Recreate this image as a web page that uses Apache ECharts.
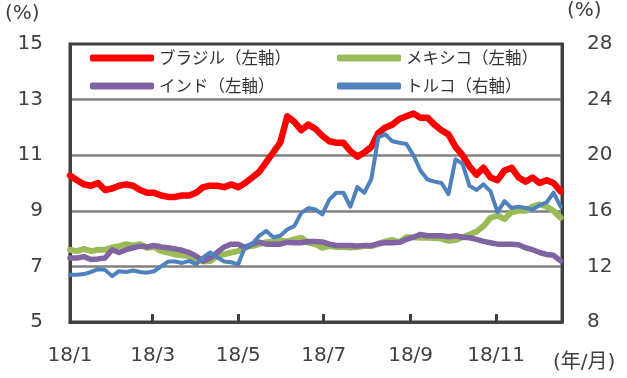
<!DOCTYPE html>
<html>
<head>
<meta charset="utf-8">
<script src="https://cdn.jsdelivr.net/npm/echarts@6/dist/echarts.min.js"></script>
<style>
	html, body { margin: 0; padding: 0; background: #fff; }
	#chart { width: 627px; height: 378px; }
</style>
</head>
<body>
<div id="chart"></div>
<script>
// days since 2018/1/1, one reading every 5 days
var days = [];
for (var i = 0; i < 71; i++) {
	days.push(i * 5);
}

var monthTicks = [0, 59, 120, 181, 243, 304];
var monthLabels = ['18/1', '18/3', '18/5', '18/7', '18/9', '18/11'];

var brazil = [
	10.27, 10.1, 9.95, 9.9, 10.0, 9.75, 9.8, 9.9, 9.95, 9.9,
	9.75, 9.65, 9.65, 9.55, 9.5, 9.5, 9.55, 9.55, 9.65, 9.85,
	9.9, 9.9, 9.85, 9.95, 9.85, 10.0, 10.2, 10.4, 10.75, 11.1,
	11.45, 12.4, 12.2, 11.9, 12.1, 11.95, 11.7, 11.5, 11.45, 11.45,
	11.15, 10.95, 11.1, 11.3, 11.8, 12.0, 12.1, 12.3, 12.4, 12.5,
	12.35, 12.35, 12.1, 11.9, 11.75, 11.3, 11.0, 10.6, 10.3, 10.55,
	10.2, 10.1, 10.45, 10.55, 10.2, 10.05, 10.2, 10.0, 10.1, 10.0,
	9.7
];

var mexico = [
	7.6, 7.55, 7.63, 7.55, 7.6, 7.6, 7.68, 7.73, 7.8, 7.75,
	7.8, 7.67, 7.7, 7.55, 7.5, 7.43, 7.4, 7.37, 7.25, 7.18,
	7.19, 7.37, 7.43, 7.5, 7.55, 7.7, 7.73, 7.8, 7.87, 7.9,
	7.93, 7.9, 7.97, 8.03, 7.85, 7.8, 7.67, 7.73, 7.7, 7.7,
	7.68, 7.7, 7.73, 7.73, 7.8, 7.9, 7.95, 7.87, 8.05, 8.05,
	8.03, 8.03, 8.02, 8.0, 7.92, 7.95, 8.05, 8.15, 8.25, 8.45,
	8.75, 8.83, 8.7, 8.95, 9.0, 9.0, 9.15, 9.23, 9.15, 9.0,
	8.75
];

var india = [
	7.3, 7.3, 7.35, 7.25, 7.27, 7.3, 7.6, 7.5, 7.6, 7.67,
	7.73, 7.7, 7.75, 7.7, 7.67, 7.63, 7.58, 7.5, 7.37, 7.19,
	7.3, 7.5, 7.7, 7.8, 7.8, 7.67, 7.8, 7.87, 7.8, 7.8,
	7.8, 7.87, 7.85, 7.85, 7.9, 7.9, 7.88, 7.8, 7.75, 7.75,
	7.75, 7.73, 7.75, 7.75, 7.82, 7.85, 7.85, 7.87, 7.97, 8.05,
	8.15, 8.1, 8.1, 8.1, 8.07, 8.1, 8.05, 8.03, 7.97, 7.9,
	7.85, 7.8, 7.8, 7.8, 7.78, 7.67, 7.6, 7.5, 7.43, 7.4,
	7.2
];

// right axis
var turkey = [
	11.4, 11.4, 11.45, 11.6, 11.8, 11.75, 11.3, 11.65, 11.6, 11.7,
	11.6, 11.55, 11.65, 12.0, 12.35, 12.35, 12.25, 12.4, 12.15, 12.65,
	13.0, 12.65, 12.35, 12.3, 12.15, 13.45, 13.6, 14.2, 14.55, 14.1,
	14.2, 14.65, 14.9, 15.85, 16.2, 16.1, 15.75, 16.8, 17.3, 17.3,
	16.3, 17.7, 17.3, 18.3, 21.3, 21.5, 21.0, 20.9, 20.8, 20.0,
	18.9, 18.25, 18.1, 18.0, 17.2, 19.7, 19.4, 17.8, 17.5, 17.9,
	17.4, 15.9, 16.7, 16.2, 16.3, 16.2, 16.1, 16.4, 16.6, 17.3,
	16.3
];

function pairs(values) {
	return values.map(function(v, i) {
		return [days[i], v];
	});
}

var axisColor = '#404040';
var labelFont = 'DejaVu Sans';
var jpFont = 'Noto Sans CJK JP';

function lineSeries(name, values, color, width, yIndex) {
	return {
		name: name,
		type: 'line',
		yAxisIndex: yIndex,
		data: pairs(values),
		showSymbol: false,
		symbol: 'none',
		lineStyle: {
			color: color,
			width: width,
			join: 'round',
			cap: 'round'
		},
		itemStyle: {
			color: color
		},
		animation: false
	};
}

function legendBox(left, names) {
	return {
		orient: 'vertical',
		left: left,
		top: 48,
		padding: 0,
		itemWidth: 64,
		itemHeight: 7,
		itemGap: 8,
		icon: 'roundRect',
		data: names,
		textStyle: {
			fontFamily: jpFont,
			fontSize: 16.5,
			lineHeight: 20,
			color: '#333'
		}
	};
}

var chart = echarts.init(document.getElementById('chart'));

var option = {
	animation: false,
	grid: {
		left: 70,
		right: 65,
		top: 44,
		bottom: 56,
		show: true,
		borderColor: axisColor,
		borderWidth: 3
	},
	legend: [
		legendBox(90, ['ブラジル（左軸）', 'インド（左軸）']),
		legendBox(337, ['メキシコ（左軸）', 'トルコ（右軸）'])
	],
	graphic: [{
		type: 'text',
		left: 5,
		top: 4,
		style: { text: '(%)', font: '20px "DejaVu Sans", "Noto Sans CJK JP"', fill: axisColor }
	}, {
		type: 'text',
		left: 567,
		top: 1,
		style: { text: '(%)', font: '20px "DejaVu Sans", "Noto Sans CJK JP"', fill: axisColor }
	}, {
		type: 'text',
		left: 553,
		top: 353,
		style: { text: '(年/月)', font: '20px "DejaVu Sans", "Noto Sans CJK JP"', fill: axisColor }
	}],
	xAxis: {
		type: 'value',
		min: 0,
		max: 351,
		splitLine: { show: false },
		axisLine: { lineStyle: { color: axisColor, width: 3 } },
		axisTick: {
			inside: true,
			length: 8,
			customValues: monthTicks,
			lineStyle: { color: axisColor, width: 3 }
		},
		axisLabel: {
			customValues: monthTicks,
			margin: 24,
			fontFamily: labelFont,
			fontSize: 20,
			color: axisColor,
			formatter: function(v) {
				var k = monthTicks.indexOf(v);
				return k >= 0 ? monthLabels[k] : '';
			}
		}
	},
	yAxis: [{
		type: 'value',
		min: 5,
		max: 15,
		interval: 2,
		axisLine: { show: true, lineStyle: { color: axisColor, width: 3 } },
		axisTick: { show: false },
		splitLine: {
			show: true,
			showMinLine: false,
			showMaxLine: false,
			lineStyle: { color: '#808080', width: 2.5 }
		},
		axisLabel: {
			margin: 27,
			fontFamily: labelFont,
			fontSize: 20,
			color: axisColor
		}
	}, {
		type: 'value',
		position: 'right',
		min: 8,
		max: 28,
		interval: 4,
		axisLine: { show: true, lineStyle: { color: axisColor, width: 3 } },
		axisTick: { show: false },
		splitLine: { show: false },
		axisLabel: {
			margin: 25,
			fontFamily: labelFont,
			fontSize: 20,
			color: axisColor
		}
	}],
	series: [
		lineSeries('ブラジル（左軸）', brazil, '#ff0000', 6.5, 0),
		lineSeries('メキシコ（左軸）', mexico, '#9bbb59', 6, 0),
		lineSeries('インド（左軸）', india, '#8064a2', 5.5, 0),
		lineSeries('トルコ（右軸）', turkey, '#4f81bd', 4, 1)
	]
};

chart.setOption(option);
</script>
</body>
</html>
